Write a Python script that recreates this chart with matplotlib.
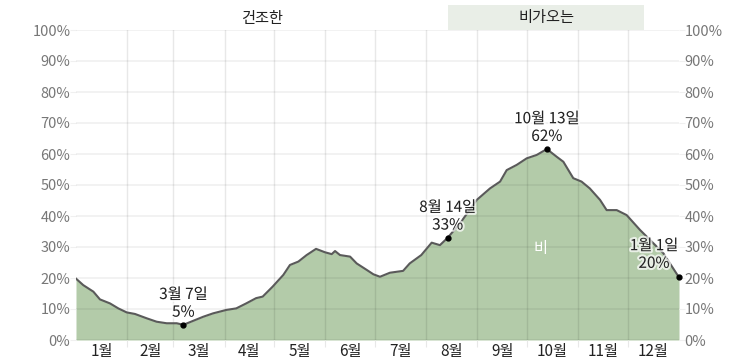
import matplotlib
matplotlib.use("Agg")
import matplotlib.pyplot as plt
import matplotlib.patheffects as pe
from matplotlib.patches import Rectangle
from matplotlib.transforms import blended_transform_factory

plt.rcParams['font.family'] = ['Noto Sans CJK KR', 'DejaVu Sans']

# day of year (0 = 1월 1일) and chance of rain in %
days = [0, 4.4, 10.5, 14.5, 20.6, 25.6, 30.7, 35.7, 42.8, 48.8, 54.9, 61, 65,
        71, 77, 83, 91, 97, 103, 109, 113, 119, 125.5, 129.5, 134.6, 139.6,
        145.3, 150.7, 154.8, 156.8, 159.8, 165.9, 169.9, 176, 180, 184, 190,
        198, 202, 209, 215.3, 220.3, 225, 232.4, 242.6, 250.6, 256.7, 260.7,
        266.8, 272.8, 278.9, 285, 291, 295, 301, 306, 311, 317.2, 321.2,
        327.3, 333.3, 341.4, 349.5, 355.5, 365]
rain = [19.8, 17.7, 15.6, 13.1, 11.8, 10.2, 8.9, 8.4, 7.0, 5.9, 5.4, 5.4, 4.9,
        6.2, 7.5, 8.6, 9.7, 10.2, 11.8, 13.5, 14.0, 17.2, 21.0, 24.2, 25.3, 27.4,
        29.4, 28.3, 27.7, 28.7, 27.4, 26.9, 24.7, 22.6, 21.2, 20.4, 21.7,
        22.3, 24.7, 27.4, 31.4, 30.6, 33.0, 37.6, 45.2, 48.9, 51.1, 54.8,
        56.5, 58.6, 59.7, 61.6, 59.1, 57.5, 52.2, 51.1, 48.9, 45.2, 41.9,
        41.9, 40.3, 35.5, 31.2, 28.0, 20.2]

month_starts = [0, 31, 59, 90, 120, 151, 181, 212, 243, 273, 304, 334, 365]
month_labels = ['1월', '2월', '3월', '4월', '5월', '6월', '7월', '8월', '9월', '10월', '11월', '12월']

# annotated points: (day, value, date text, value text)
marks = [(65, 4.9, '3월 7일', '5%'),
         (225, 33.0, '8월 14일', '33%'),
         (285, 61.6, '10월 13일', '62%'),
         (365, 20.2, '1월 1일', '20%')]

wet_start, wet_end = 225, 344

fig = plt.figure(figsize=(7.53, 3.62), dpi=100)
ax = fig.add_axes([76 / 753, 22 / 362, 603 / 753, 310 / 362])

ax.fill_between(days, rain, 0, color='#b3cba9', lw=0, zorder=1)
ax.plot(days, rain, color='#5a5a5a', lw=1.5, zorder=3, solid_joinstyle='round')

ax.set_xlim(0, 365)
ax.set_ylim(0, 100)

grid_col = (0, 0, 0, 0.06)
for y in range(0, 101, 10):
    ax.axhline(y, color=grid_col, lw=1.2, zorder=2)
for d in month_starts[1:-1]:
    ax.axvline(d, color=(0, 0, 0, 0.09), lw=1.0, zorder=2)

for s in ax.spines.values():
    s.set_visible(False)

yt = list(range(0, 101, 10))
ax.set_yticks(yt)
ax.set_yticklabels([f'{v}%' for v in yt])
ax.tick_params(axis='y', which='major', length=4, color='#f0f0f0', labelcolor='#777777',
               labelsize=10.5, left=True, right=True, labelleft=True, labelright=True, pad=0)

ax.set_xticks(month_starts[1:-1])
ax.set_xticklabels([])
ax.tick_params(axis='x', which='major', length=5, color='#e8e8e8')
ax.set_xticks([(a + b) / 2 for a, b in zip(month_starts[:-1], month_starts[1:])], minor=True)
ax.set_xticklabels(month_labels, minor=True)
ax.tick_params(axis='x', which='minor', length=0, labelsize=11, labelcolor='#222222', pad=2)

halo = [pe.withStroke(linewidth=3, foreground='white', alpha=0.7)]
for d, v, t1, t2 in marks:
    ax.plot([d], [v], 'o', color='black', ms=3.5, zorder=5, clip_on=False)
    dx, dy = (0, 3) if d < 365 else (-18, 4)
    ax.annotate(f'{t1}\n{t2}', (d, v), xytext=(dx, dy), textcoords='offset points',
                ha='center', va='bottom', fontsize=11, color='#222222',
                linespacing=1.05, path_effects=halo, zorder=6, annotation_clip=False)

ax.text(281, 29.5, '비', color='white', fontsize=11, ha='center', va='center', zorder=4)

trans = blended_transform_factory(ax.transData, ax.transAxes)
ax.add_patch(Rectangle((wet_start, 1.0), wet_end - wet_start, 25 / 310, transform=trans,
                       color='#e9eee7', clip_on=False, lw=0, zorder=0))
ax.text(wet_start / 2, 1.037, '건조한', transform=trans, ha='center', va='center',
        fontsize=11, color='#222222')
ax.text((wet_start + wet_end) / 2, 1.04, '비가오는', transform=trans, ha='center',
        va='center', fontsize=11, color='#222222')

fig.savefig('out.png', dpi=100)
